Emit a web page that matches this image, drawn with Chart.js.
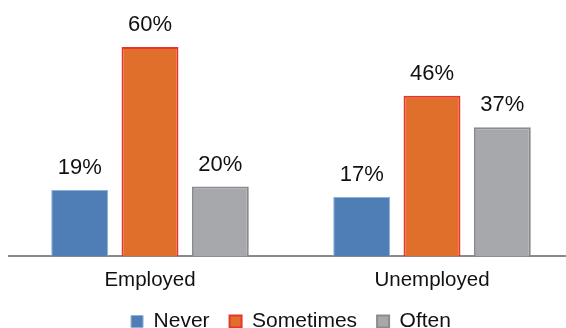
<!DOCTYPE html>
<html lang="en">
<head>
    <meta charset="UTF-8">
    <title>Employment chart</title>
    <script src="https://cdn.jsdelivr.net/npm/chart.js@4.4.2/dist/chart.umd.min.js"></script>
    <style>
        html, body {
          margin: 0;
          padding: 0;
          background: #fff;
          overflow: hidden;}
        #wrap {
          width: 582px;
          height: 328px;}
    </style>
</head>
<body>
    <div id="wrap"><canvas id="myChart" width="582" height="328"></canvas></div>
    <script>
        // Data
        const categories = ['Employed', 'Unemployed'];
        const never = [19, 17];
        const sometimes = [60, 46];
        const often = [20, 37];

        // Writes the % value above each bar
        const valueLabels = {
            id: 'valueLabels',
            afterDatasetsDraw(chart) {
                const ctx = chart.ctx;
                ctx.save();
                ctx.font = '22px "Liberation Sans", Arial, sans-serif';
                ctx.fillStyle = '#111';
                ctx.textAlign = 'center';
                ctx.textBaseline = 'middle';
                chart.data.datasets.forEach((ds, i) => {
                    chart.getDatasetMeta(i).data.forEach((bar, j) => {
                        ctx.fillText(ds.data[j] + '%', bar.x, bar.y - 22);});});
                ctx.restore();}};

        const ctx = document.getElementById('myChart').getContext('2d');
        const myChart = new Chart(ctx, {
            type: 'bar',
            data: {
                labels: categories,
                datasets: [
                    {label: 'Never', data: never, backgroundColor: '#4F7EB7', borderColor: '#8FB0D8', borderWidth: 1},
                    {label: 'Sometimes', data: sometimes, backgroundColor: '#DF6F2B', borderColor: '#E8342C', borderWidth: 2},
                    {label: 'Often', data: often, backgroundColor: '#A7A8AB', borderColor: '#8A8B8E', borderWidth: 2}]},
            options: {
                responsive: false,
                animation: false,
                categoryPercentage: 0.748,
                barPercentage: 0.81,
                layout: {padding: {left: 9, right: 9, top: 12, bottom: -14}},
                scales: {
                    x: {
                        afterFit: (scale) => { scale.height -= 14; },
                        grid: {display: false, drawTicks: false},
                        border: {display: true, color: '#8A8A8A', width: 2},
                        ticks: {color: '#111', padding: 12, font: {size: 20.5, family: '"Liberation Sans", Arial, sans-serif'}}},
                    y: {
                        display: false,
                        min: 0,
                        max: 70}},
                plugins: {
                    legend: {
                        position: 'bottom',
                        labels: {
                            color: '#111',
                            boxWidth: 12,
                            boxHeight: 12,
                            padding: 20,
                            font: {size: 21, family: '"Liberation Sans", Arial, sans-serif'}}},
                    tooltip: {enabled: false}}},
            plugins: [valueLabels]});
    </script>
</body>
</html>
